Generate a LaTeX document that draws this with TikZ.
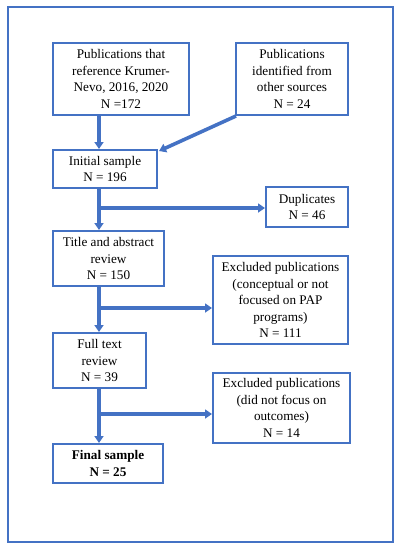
\documentclass[tikz,border=0pt]{standalone}
\usepackage{fontspec}
\setmainfont{Liberation Serif}
\usetikzlibrary{arrows.meta}
\definecolor{bl}{HTML}{4472C4}
\tikzset{
  box/.style={draw=bl, line width=2pt, rectangle, inner sep=0pt, align=center,
    font=\fontsize{13.2}{16.5}\selectfont, text=black},
  flow/.style={draw=bl, line width=3.6pt, -{Triangle[width=9pt,length=7pt]}}
}
\begin{document}
\begin{tikzpicture}[x=1pt,y=-1pt]
\useasboundingbox (0,0) rectangle (400,550);
\draw[bl, line width=1.3pt] (8,7) rectangle (393,542);
\node[box, minimum width=136pt, minimum height=72pt] (b1) at (121,79)
  {Publications that\\reference Krumer-\\Nevo, 2016, 2020\\N =172};
\node[box, minimum width=112pt, minimum height=72pt] (b2) at (292,79)
  {Publications\\identified from\\other sources\\N = 24};
\node[box, minimum width=104pt, minimum height=38pt] (init) at (105,169)
  {Initial sample\\N = 196};
\node[box, minimum width=82pt, minimum height=40pt] (dup) at (307,207)
  {Duplicates\\N = 46};
\node[box, minimum width=111pt, minimum height=55pt] (title) at (108.5,258.5)
  {Title and abstract\\review\\N = 150};
\node[box, minimum width=135pt, minimum height=88pt] (ex1) at (280.5,300)
  {Excluded publications\\(conceptual or not\\focused on PAP\\programs)\\N = 111};
\node[box, minimum width=93pt, minimum height=55pt] (full) at (99.5,360.5)
  {Full text\\review\\N = 39};
\node[box, minimum width=137pt, minimum height=70pt] (ex2) at (281.5,408)
  {Excluded publications\\(did not focus on\\outcomes)\\N = 14};
\node[box, minimum width=110pt, minimum height=39pt] (final) at (108,463.5)
  {\textbf{Final sample}\\\textbf{N = 25}};
\coordinate (spine) at (99,0);
\coordinate (br1) at (99,208);
\coordinate (br2) at (99,308);
\coordinate (br3) at (99,414);
\draw[flow] (b1.south -| spine) -- (init.north -| spine);
\draw[flow] ([xshift=1pt]b2.south west) -- ([xshift=1pt,yshift=-2pt]init.north east);
\draw[flow] (init.south -| spine) -- (title.north -| spine);
\draw[flow] (br1) -- (dup.west |- br1);
\draw[flow] (title.south -| spine) -- (full.north -| spine);
\draw[flow] (br2) -- (ex1.west |- br2);
\draw[flow] (full.south -| spine) -- (final.north -| spine);
\draw[flow] (br3) -- (ex2.west |- br3);
\end{tikzpicture}
\end{document}
